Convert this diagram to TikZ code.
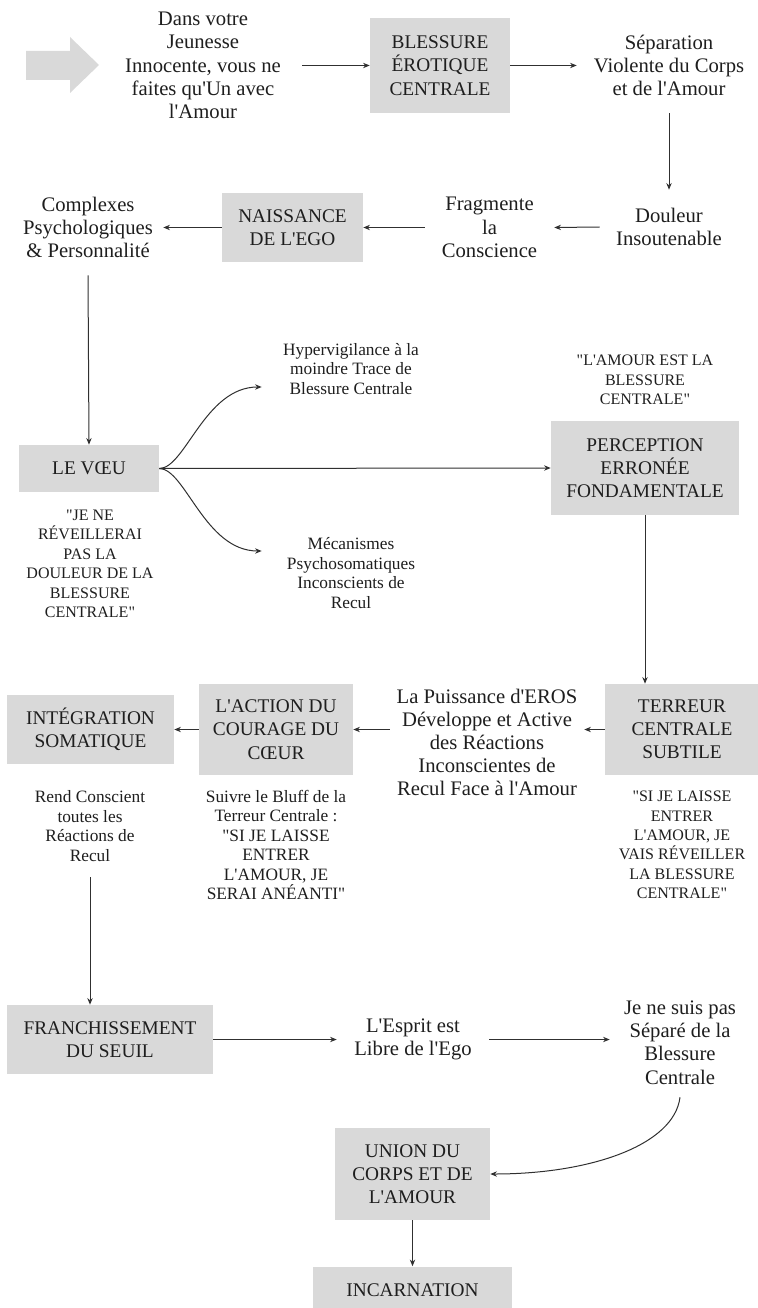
\documentclass[tikz,border=0pt]{standalone}
\usepackage{fontspec}
\setmainfont{Liberation Serif}[Ligatures=TeXOff]
\usetikzlibrary{arrows.meta}
\definecolor{boxgray}{HTML}{D9D9D9}
\definecolor{ink}{HTML}{1E1E1E}
\definecolor{lin}{HTML}{303030}
\def\pxu{0.75pt}
\begin{document}
\begin{tikzpicture}[x=0.75pt,y=-0.75pt,
  every node/.style={text=ink, align=center, inner sep=0pt},
  box/.style={fill=boxgray, font=\fontsize{14.5}{17.4}\selectfont},
  big/.style={font=\fontsize{15.5}{17.4}\selectfont},
  small/.style={font=\fontsize{13}{14.6}\selectfont},
  smallq/.style={font=\fontsize{12}{14.6}\selectfont},
  arr/.style={draw=lin, line width=0.75pt, -{Stealth[length=5pt,width=4pt]}},
  ln/.style={draw=lin, line width=0.75pt}
]
\useasboundingbox (0,0) rectangle (757,1308);

% entry arrow shape
\fill[boxgray] (26,51) -- (70,51) -- (70,37) -- (99,65) -- (70,93) -- (70,80) -- (26,80) -- cycle;

% row 1
\node[big, minimum width=198*\pxu] (dans) at (203,65.5) {Dans votre\\Jeunesse\\Innocente, vous ne\\faites qu'Un avec\\l'Amour};
\node[box, minimum width=140*\pxu, minimum height=95*\pxu] (blessure) at (440,65.5) {BLESSURE\\ÉROTIQUE\\CENTRALE};
\node[big, minimum width=184*\pxu, minimum height=95*\pxu] (separation) at (669,65.5) {Séparation\\Violente du Corps\\et de l'Amour};

% row 2
\node[big, minimum width=138*\pxu, minimum height=74*\pxu] (douleur) at (669,227) {Douleur\\Insoutenable};
\node[big, minimum width=129*\pxu] (fragmente) at (489.5,227.5) {Fragmente\\la\\Conscience};
\node[box, minimum width=141*\pxu, minimum height=69*\pxu] (naissance) at (292.5,227.5) {NAISSANCE\\DE L'EGO};
\node[big, minimum width=150*\pxu, minimum height=95*\pxu] (complexes) at (88,227.5) {Complexes\\Psychologiques\\\& Personnalité};

% row 3
\node[box, minimum width=140*\pxu, minimum height=47*\pxu] (voeu) at (89,468.5) {LE VŒU};
\node[smallq] (voeuq) at (90,564) {"JE NE\\RÉVEILLERAI\\PAS LA\\DOULEUR DE LA\\BLESSURE\\CENTRALE"};
\node[small, minimum width=178*\pxu] (hyper) at (351,369) {Hypervigilance à la\\moindre Trace de\\Blessure Centrale};
\node[small, minimum width=178*\pxu] (meca) at (351,573) {Mécanismes\\Psychosomatiques\\Inconscients de\\Recul};
\node[smallq] (amourq) at (645,380) {"L'AMOUR EST LA\\BLESSURE\\CENTRALE"};
\node[box, minimum width=188*\pxu, minimum height=94*\pxu] (perception) at (645,468) {PERCEPTION\\ERRONÉE\\FONDAMENTALE};

% row 4
\node[box, minimum width=154*\pxu, minimum height=91*\pxu] (terreur) at (682,729.5) {TERREUR\\CENTRALE\\SUBTILE};
\node[smallq] (terreurq) at (682,845) {"SI JE LAISSE\\ENTRER\\L'AMOUR, JE\\VAIS RÉVEILLER\\LA BLESSURE\\CENTRALE"};
\node[big, minimum width=194*\pxu] (puissance) at (487,742.5) {La Puissance d'EROS\\Développe et Active\\des Réactions\\Inconscientes de\\Recul Face à l'Amour};
\node[box, minimum width=154*\pxu, minimum height=91*\pxu] (action) at (276,729.5) {L'ACTION DU\\COURAGE DU\\CŒUR};
\node[small] (suivre) at (276,845) {Suivre le Bluff de la\\Terreur Centrale :\\"SI JE LAISSE\\ENTRER\\L'AMOUR, JE\\SERAI ANÉANTI"};
\node[box, minimum width=167*\pxu, minimum height=69*\pxu] (integ) at (90.5,729.5) {INTÉGRATION\\SOMATIQUE};
\node[small, minimum height=102*\pxu] (rend) at (90,826) {Rend Conscient\\toutes les\\Réactions de\\Recul};

% row 5
\node[box, minimum width=206*\pxu, minimum height=69*\pxu] (franch) at (110,1039.5) {FRANCHISSEMENT\\DU SEUIL};
\node[big, minimum width=152*\pxu] (esprit) at (413,1039.5) {L'Esprit est\\Libre de l'Ego};
\node[big, minimum width=140*\pxu, minimum height=109*\pxu] (jene) at (680,1042.5) {Je ne suis pas\\Séparé de la\\Blessure\\Centrale};

% row 6
\node[box, minimum width=155*\pxu, minimum height=92*\pxu] (union) at (412.5,1174) {UNION DU\\CORPS ET DE\\L'AMOUR};
\node[box, minimum width=199*\pxu, minimum height=47*\pxu] (incarn) at (412.5,1290) {INCARNATION};

% connectors
\draw[arr] (dans.east) -- (blessure.west);
\draw[arr] (blessure.east) -- (separation.west);
\draw[arr] (separation.south) -- (douleur.north);
\draw[arr] (douleur.west) -- (fragmente.east);
\draw[arr] (fragmente.west) -- (naissance.east);
\draw[arr] (naissance.west) -- (complexes.east);
\draw[arr] (complexes.south) -- (voeu.north);
\draw[arr] (voeu.east) -- (perception.west);
\draw[arr] (voeu.east) .. controls +(26,0) and +(-57,0) .. ([yshift=-13.5pt]hyper.west);
\draw[arr] (voeu.east) .. controls +(26,0) and +(-57,0) .. ([yshift=16.5pt]meca.west);
\draw[arr] (perception.south) -- (perception.south |- terreur.north);
\draw[arr] (terreur.west) -- (terreur.west -| puissance.east);
\draw[arr] (puissance.west |- action.east) -- (action.east);
\draw[arr] (action.west) -- (integ.east);
\draw[arr] (rend.south) -- (rend.south |- franch.north);
\draw[arr] (franch.east) -- (esprit.west);
\draw[arr] (esprit.east) -- (esprit.east -| jene.west);
\draw[arr] (jene.south) .. controls +(-6,48) and +(100,0) .. (union.east);
\draw[arr] (union.south) -- (incarn.north);
\end{tikzpicture}
\end{document}
